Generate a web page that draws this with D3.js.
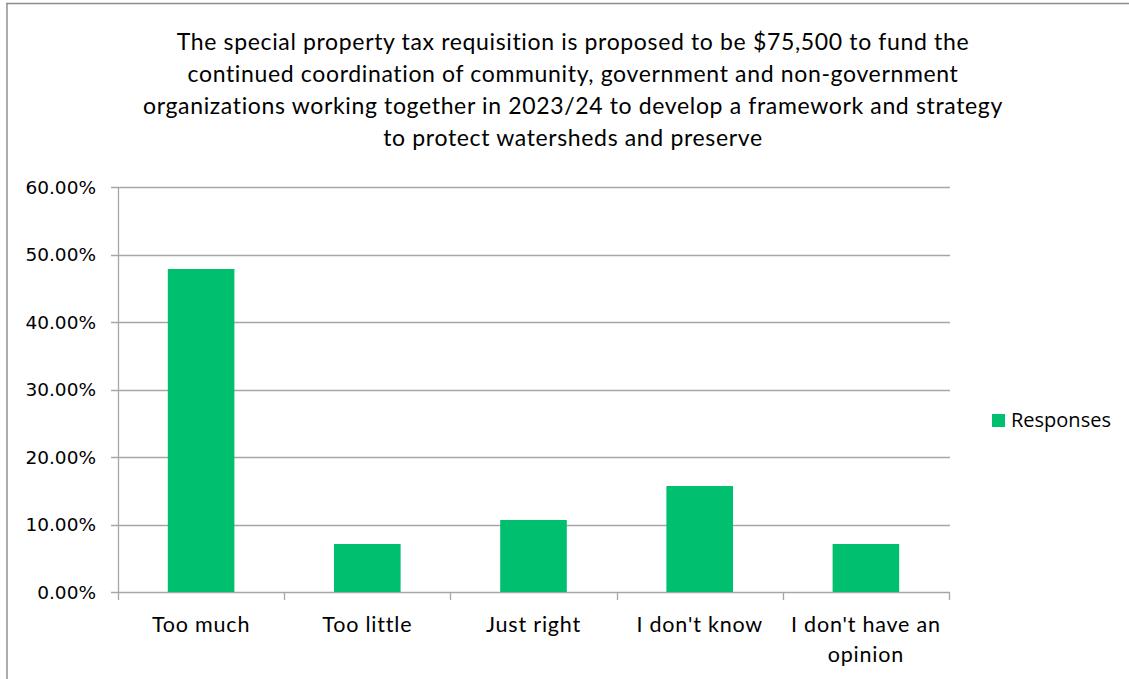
<!DOCTYPE html>
<html>
<head>
<meta charset="utf-8">
<script src="https://cdn.jsdelivr.net/npm/d3@7"></script>
<style>
  html, body { margin: 0; padding: 0; background: #fff; }
  svg { display: block; }
  text { font-family: Lato, "Open Sans", sans-serif; fill: #000; }
</style>
</head>
<body>
<script>
const titleLines = [
  "The special property tax requisition is proposed to be $75,500 to fund the",
  "continued coordination of community, government and non-government",
  "organizations working together in 2023/24 to develop a framework and strategy",
  "to protect watersheds and preserve"
];
const categories = ["Too much", "Too little", "Just right", "I don't know", "I don't have an opinion"];
const categoryLines = [["Too much"], ["Too little"], ["Just right"], ["I don't know"], ["I don't have an", "opinion"]];
const values = [0.4785, 0.0711, 0.1067, 0.1570, 0.0711];
const yTicks = [0, 0.1, 0.2, 0.3, 0.4, 0.5, 0.6];
const seriesName = "Responses";

const W = 1129, H = 679;
const plot = { left: 118, right: 949, top: 187, bottom: 592 };
const barColor = "#00BF6F";
const gridColor = "#a6a6a6";

const svg = d3.select("body").append("svg").attr("width", W).attr("height", H);

// outer border (left and top)
svg.append("line").attr("x1", 7).attr("x2", 7).attr("y1", 3).attr("y2", H)
  .attr("stroke", "#acacac").attr("stroke-width", 2);
svg.append("line").attr("x1", 6).attr("x2", W).attr("y1", 3.5).attr("y2", 3.5)
  .attr("stroke", "#8c8c8c").attr("stroke-width", 1.5);

// title
const title = svg.append("text").attr("text-anchor", "middle").attr("font-size", 23)
  .attr("letter-spacing", 0.65);
titleLines.forEach((t, i) => {
  title.append("tspan").attr("x", 573).attr("y", 50 + i * 32).text(t);
});

const xb = d3.scaleBand().domain(categories).range([plot.left, plot.right]);
const y = d3.scaleLinear().domain([0, 0.6]).range([plot.bottom, plot.top]);

// gridlines
svg.append("g").selectAll("line").data(yTicks).join("line")
  .attr("x1", plot.left - 7).attr("x2", plot.right + 1)
  .attr("y1", d => Math.round(y(d)) + 0.5).attr("y2", d => Math.round(y(d)) + 0.5)
  .attr("stroke", gridColor).attr("stroke-width", 1.3);

// y axis line
svg.append("line").attr("x1", plot.left + 0.5).attr("x2", plot.left + 0.5)
  .attr("y1", plot.top).attr("y2", plot.bottom + 1)
  .attr("stroke", gridColor).attr("stroke-width", 1.3);

// y tick labels
svg.append("g").selectAll("text").data(yTicks).join("text")
  .attr("x", 96).attr("y", d => y(d) + 6.5)
  .attr("text-anchor", "end").attr("font-size", 18.5)
  .style("font-family", "'DejaVu Sans', sans-serif")
  .text(d => d3.format(".2%")(d));

// x ticks
const xTickPos = categories.map(c => xb(c)).concat([plot.right]);
svg.append("g").selectAll("line").data(xTickPos).join("line")
  .attr("x1", d => Math.round(d) + 0.5).attr("x2", d => Math.round(d) + 0.5)
  .attr("y1", plot.bottom).attr("y2", plot.bottom + 8)
  .attr("stroke", gridColor).attr("stroke-width", 1.3);

// bars
svg.append("g").selectAll("rect").data(categories).join("rect")
  .attr("x", (c) => xb(c) + xb.bandwidth() / 2 - 33.3)
  .attr("width", 66.6)
  .attr("y", (c, i) => y(values[i]))
  .attr("height", (c, i) => y(0) - y(values[i]))
  .attr("fill", barColor);

// x labels
const xl = svg.append("g").selectAll("text").data(categories).join("text")
  .attr("text-anchor", "middle").attr("font-size", 21.5).attr("letter-spacing", 0.8);
xl.each(function(c, i) {
  const t = d3.select(this);
  categoryLines[i].forEach((line, j) => {
    t.append("tspan").attr("x", xb(c) + xb.bandwidth() / 2).attr("y", 632 + j * 30).text(line);
  });
});

// legend
svg.append("rect").attr("x", 992).attr("y", 414).attr("width", 13).attr("height", 13).attr("fill", barColor);
svg.append("text").attr("x", 1011).attr("y", 427).attr("font-size", 20)
  .style("font-family", "'Open Sans', sans-serif").text(seriesName);
</script>
</body>
</html>
